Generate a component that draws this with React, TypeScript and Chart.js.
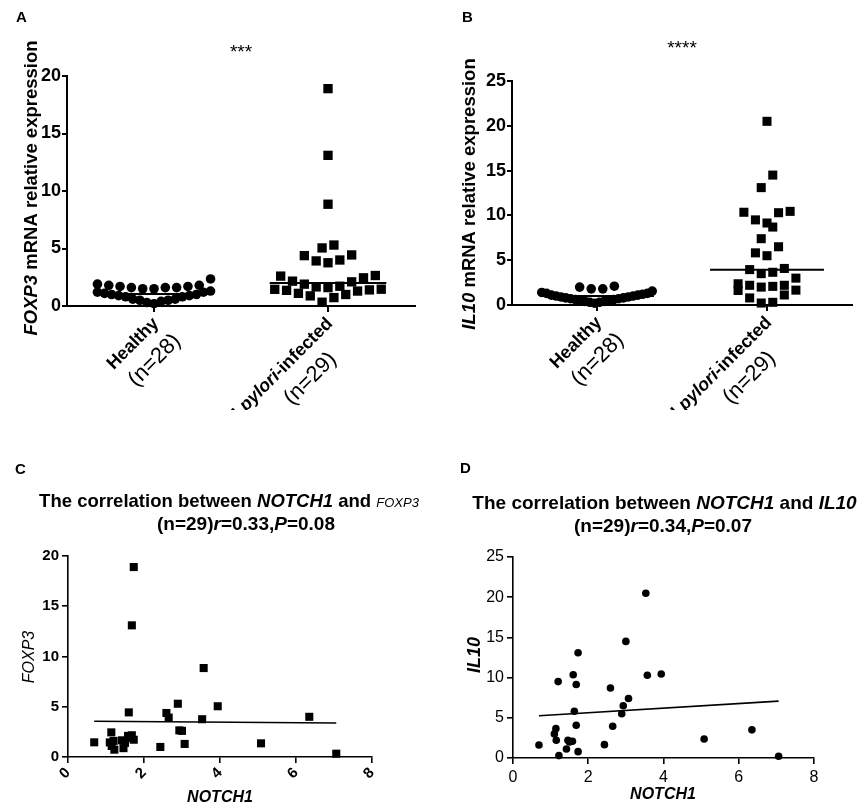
import React, { useEffect, useRef } from "react";
import { Chart, registerables } from "chart.js";

Chart.register(...registerables);

// ---------------- data ----------------
const groupNames = ["Healthy", "H.pylori-infected"];
const groupCounts = ["(n=28)", "(n=29)"];
const significance = ["***", "****"];

// Healthy controls (n=28)
const foxp3Healthy = [1.9, 1.8, 1.7, 1.6, 1.5, 1.5, 1.6, 1.6, 1.7, 1.8, 2.35, 1.3, 1.2, 1.0, 0.9, 0.8, 0.6, 0.5, 0.4, 0.2, 0.3, 0.5, 0.6, 0.8, 0.9, 1.0, 1.1, 1.2];
const il10Healthy = [2.1, 1.8, 1.8, 2.0, 1.55, 1.4, 1.3, 1.3, 1.2, 1.1, 1.1, 1.0, 1.0, 0.9, 0.9, 0.8, 0.8, 0.7, 0.7, 0.6, 0.6, 0.5, 0.5, 0.4, 0.4, 0.3, 0.3, 0.2];

// H. pylori-infected patients (n=29), one entry per patient
const notch1 = [1.73, 1.68, 3.57, 2.89, 3.94, 1.6, 2.59, 2.65, 3.53, 6.35, 1.14, 2.93, 3.0, 3.07, 0.69, 1.1, 1.2, 1.22, 1.42, 1.46, 1.58, 1.68, 1.73, 2.43, 5.08, 7.06, 1.15, 1.5, 1.63];
const foxp3 = [18.9, 13.1, 8.85, 5.3, 5.05, 4.44, 4.38, 3.92, 3.76, 4.0, 2.45, 2.65, 2.6, 1.3, 1.46, 1.45, 1.6, 0.73, 1.66, 0.88, 2.1, 2.16, 1.72, 1.0, 1.36, 0.33, 1.1, 1.4, 1.9];
const il10 = [13.1, 9.15, 10.3, 5.5, 10.45, 10.35, 8.7, 3.95, 20.5, 3.5, 3.65, 6.5, 14.5, 7.4, 1.62, 3.0, 9.5, 0.3, 1.12, 2.2, 2.08, 4.08, 0.79, 1.66, 2.37, 0.22, 2.2, 2.0, 5.82];

// group medians [healthy, infected]
const foxp3Medians = [1.05, 2.0];
const il10Medians = [1.0, 3.93];

// fitted line values at min / max NOTCH1
const foxp3Fit = [3.55, 3.38];
const il10Fit = [5.25, 7.07];

const corrStats = [
  { n: "29", r: "0.33", p: "0.08" },
  { n: "29", r: "0.34", p: "0.07" },
];

const foxp3Ticks = [0, 5, 10, 15, 20];
const il10Ticks = [0, 5, 10, 15, 20, 25];
const notch1Ticks = [0, 2, 4, 6, 8];

// ---------------- helpers ----------------
const FONT = '"Liberation Sans", Arial, Helvetica, sans-serif';
type Run = { t: string; s: number; b?: boolean; i?: boolean };

function runFont(r: Run) {
  return `${r.i ? "italic " : ""}${r.b ? "bold " : ""}${r.s}px ${FONT}`;
}

function drawRuns(
  ctx: CanvasRenderingContext2D,
  runs: Run[],
  x: number,
  y: number,
  align: "left" | "center" | "right" = "left",
  rot = 0,
  baseline: CanvasTextBaseline = "middle"
) {
  ctx.save();
  ctx.translate(x, y);
  if (rot) ctx.rotate(rot);
  ctx.textBaseline = baseline;
  ctx.textAlign = "left";
  ctx.fillStyle = "#000";
  const widths = runs.map((r) => {
    ctx.font = runFont(r);
    return ctx.measureText(r.t).width;
  });
  const total = widths.reduce((a, b) => a + b, 0);
  let cx = align === "center" ? -total / 2 : align === "right" ? -total : 0;
  runs.forEach((r, k) => {
    ctx.font = runFont(r);
    ctx.fillText(r.t, cx, 0);
    cx += widths[k];
  });
  ctx.restore();
}

// column scatter layout: values grouped in rows, lowest in the middle
function swarm(values: number[], center: number, rowSpan: number, maxStep = 0.068, maxWidth = 0.65) {
  const sorted = values.slice().sort((a, b) => a - b);
  const rows: number[][] = [];
  let cur: number[] = [];
  let start = 0;
  for (const v of sorted) {
    if (cur.length && v - start > rowSpan + 1e-9) {
      rows.push(cur);
      cur = [];
    }
    if (!cur.length) start = v;
    cur.push(v);
  }
  if (cur.length) rows.push(cur);
  const out: { x: number; y: number }[] = [];
  for (const row of rows) {
    const n = row.length;
    const step = n > 1 ? Math.min(maxStep, maxWidth / (n - 1)) : 0;
    const slots = Array.from({ length: n }, (_, j) => j - (n - 1) / 2);
    slots.sort((a, b) => Math.abs(a) - Math.abs(b) || a - b);
    row.forEach((v, k) => out.push({ x: center + slots[k] * step, y: v }));
  }
  return out;
}

function pts(data: { x: number; y: number }[], style: string, r: number) {
  return {
    data,
    pointStyle: style,
    pointRadius: r,
    pointBackgroundColor: "#000",
    pointBorderWidth: 0,
    borderWidth: 0,
    showLine: false,
    clip: false,
  };
}

function seg(x0: number, x1: number, y0: number, y1: number, w: number) {
  return {
    data: [
      { x: x0, y: y0 },
      { x: x1, y: y1 },
    ],
    showLine: true,
    pointRadius: 0,
    borderColor: "#000",
    borderWidth: w,
    clip: false,
  };
}

function yAxis(ticks: number[], font: any, w: number, boxWidth: number, tickLen: number, pad: number) {
  return {
    type: "linear",
    position: "left",
    min: ticks[0],
    max: ticks[ticks.length - 1],
    afterBuildTicks: (s: any) => {
      s.ticks = ticks.map((v) => ({ value: v }));
    },
    afterFit: (s: any) => {
      s.width = boxWidth;
    },
    border: { display: true, color: "#000", width: w },
    grid: { drawOnChartArea: false, drawTicks: true, tickLength: tickLen, color: "#000", lineWidth: w },
    ticks: { color: "#000", font, padding: pad, autoSkip: false },
  };
}

function groupXAxis(boxHeight: number) {
  return {
    type: "linear",
    position: "bottom",
    min: -0.5,
    max: 1.5,
    afterBuildTicks: (s: any) => {
      s.ticks = groupNames.map((_, i) => ({ value: i }));
    },
    afterFit: (s: any) => {
      s.height = boxHeight;
    },
    border: { display: true, color: "#000", width: 2 },
    grid: { drawOnChartArea: false, drawTicks: true, tickLength: 6, color: "#000", lineWidth: 2 },
    ticks: { display: true, callback: () => "" },
  };
}

function numXAxis(ticks: number[], font: any, rotation: number, boxHeight: number) {
  return {
    type: "linear",
    position: "bottom",
    min: ticks[0],
    max: ticks[ticks.length - 1],
    afterBuildTicks: (s: any) => {
      s.ticks = ticks.map((v) => ({ value: v }));
    },
    afterFit: (s: any) => {
      s.height = boxHeight;
    },
    border: { display: true, color: "#000", width: 1.6 },
    grid: { drawOnChartArea: false, drawTicks: true, tickLength: 6, color: "#000", lineWidth: 1.6 },
    ticks: { color: "#000", font, padding: rotation ? 1 : 4, autoSkip: false, minRotation: rotation, maxRotation: rotation },
  };
}

const baseOptions = {
  animation: false,
  responsive: false,
  maintainAspectRatio: false,
  devicePixelRatio: 1,
  events: [],
  plugins: { legend: { display: false }, tooltip: { enabled: false } },
};

function groupLabelRuns(i: number): Run[] {
  const name = groupNames[i];
  const m = name.match(/^(H\.)(pylori)(.*)$/);
  if (m) {
    return [
      { t: m[1], s: 18, b: true },
      { t: m[2], s: 18, b: true, i: true },
      { t: m[3], s: 18, b: true },
    ];
  }
  return [{ t: name, s: 18, b: true }];
}

const lineTwoShift = [-38, -64];

function drawGroupLabels(chart: any) {
  const ctx = chart.ctx as CanvasRenderingContext2D;
  const xs = chart.scales.x;
  const bottom = chart.chartArea.bottom;
  groupNames.forEach((_, i) => {
    const tx = xs.getPixelForValue(i);
    ctx.save();
    ctx.translate(tx, bottom);
    ctx.rotate(-Math.PI / 4);
    drawRuns(ctx, groupLabelRuns(i), -9, 12, "right");
    drawRuns(ctx, [{ t: groupCounts[i], s: 22 }], lineTwoShift[i], 39, "center");
    ctx.restore();
  });
}

function textPlugin(id: string, ox: number, oy: number, withGroups: boolean, draw: (ctx: CanvasRenderingContext2D, chart: any) => void) {
  return {
    id,
    afterDraw(chart: any) {
      const ctx = chart.ctx as CanvasRenderingContext2D;
      ctx.save();
      if (withGroups) drawGroupLabels(chart);
      ctx.translate(-ox, -oy);
      draw(ctx, chart);
      ctx.restore();
    },
  };
}

// ---------------- panel configs ----------------
function buildGroupPanel(
  id: string,
  letter: string,
  ox: number,
  healthy: number[],
  infected: number[],
  medians: number[],
  ticks: number[],
  rowSpan: number,
  gene: string,
  star: string,
  box: { left: number; top: number; right: number; bottom: number },
  letterX: number,
  titleX: number,
  titleY: number,
  starBase: number,
  squareR: number
) {
  return {
    type: "scatter",
    data: {
      datasets: [
        pts(swarm(healthy, 0, rowSpan), "circle", 4.8),
        pts(swarm(infected, 1, rowSpan), "rect", squareR),
        seg(-0.335, 0.335, medians[0], medians[0], 2),
        seg(0.665, 1.335, medians[1], medians[1], 2),
      ],
    },
    options: {
      ...baseOptions,
      layout: { padding: { left: 0, top: box.top, right: box.right, bottom: 0 } },
      scales: {
        x: groupXAxis(box.bottom),
        y: yAxis(ticks, { family: FONT, size: 18, weight: "bold" }, 2, box.left, 5, 1),
      },
    },
    plugins: [
      textPlugin(id, ox, 0, true, (ctx, chart) => {
        drawRuns(ctx, [{ t: letter, s: 15, b: true }], letterX, 18, "left");
        const xs = chart.scales.x;
        const mid = (xs.getPixelForValue(0) + xs.getPixelForValue(1)) / 2 + ox;
        drawRuns(ctx, [{ t: star, s: 19 }], mid, starBase, "center", 0, "alphabetic");
        drawRuns(
          ctx,
          [
            { t: gene, s: 18.5, b: true, i: true },
            { t: " mRNA relative expression", s: 18.5, b: true },
          ],
          titleX,
          titleY,
          "center",
          -Math.PI / 2
        );
      }),
    ],
  };
}

function buildCorrPanel(
  id: string,
  letter: string,
  ox: number,
  oy: number,
  yValues: number[],
  fit: number[],
  ticks: number[],
  stats: { n: string; r: string; p: string },
  box: { left: number; top: number; right: number; bottom: number },
  pointStyle: string,
  pointR: number,
  tickFont: any,
  xRot: number,
  titleSize: number,
  geneTitleRuns: Run[],
  geneAxisRun: Run,
  pos: any
) {
  const xMin = Math.min(...notch1);
  const xMax = Math.max(...notch1);
  return {
    type: "scatter",
    data: {
      datasets: [
        pts(notch1.map((x, i) => ({ x, y: yValues[i] })), pointStyle, pointR),
        seg(xMin, xMax, fit[0], fit[1], 1.6),
      ],
    },
    options: {
      ...baseOptions,
      layout: { padding: { left: 0, top: box.top, right: box.right, bottom: 0 } },
      scales: {
        x: numXAxis(notch1Ticks, tickFont, xRot, box.bottom),
        y: yAxis(ticks, tickFont, 1.6, box.left, 6, 3),
      },
    },
    plugins: [
      textPlugin(id, ox, oy, false, (ctx) => {
        drawRuns(ctx, [{ t: letter, s: 15, b: true }], pos.letterX, pos.letterY, "left");
        drawRuns(
          ctx,
          [
            { t: "The correlation between ", s: titleSize, b: true },
            { t: "NOTCH1", s: titleSize, b: true, i: true },
            { t: " and ", s: titleSize, b: true },
            ...geneTitleRuns,
          ],
          pos.t1x,
          pos.t1y,
          "center",
          0,
          "alphabetic"
        );
        drawRuns(
          ctx,
          [
            { t: `(n=${stats.n})`, s: 19, b: true },
            { t: "r", s: 19, b: true, i: true },
            { t: `=${stats.r},`, s: 19, b: true },
            { t: "P", s: 19, b: true, i: true },
            { t: `=${stats.p}`, s: 19, b: true },
          ],
          pos.t2x,
          pos.t2y,
          "center",
          0,
          "alphabetic"
        );
        drawRuns(ctx, [geneAxisRun], pos.yTitleX, pos.yTitleY, "center", -Math.PI / 2);
        drawRuns(ctx, [{ t: "NOTCH1", s: 16, b: true, i: true }], pos.xTitleX, pos.xTitleY, "center");
      }),
    ],
  };
}

const panels = [
  {
    left: 0,
    top: 0,
    width: 432,
    height: 410,
    build: () =>
      buildGroupPanel("textA", "A", 0, foxp3Healthy, foxp3, foxp3Medians, foxp3Ticks, 1.15, "FOXP3", significance[0],
        { left: 67, top: 76, right: 17, bottom: 104 }, 16, 32, 188, 58, 6.6),
  },
  {
    left: 432,
    top: 0,
    width: 432,
    height: 410,
    build: () =>
      buildGroupPanel("textB", "B", 432, il10Healthy, il10, il10Medians, il10Ticks, 1.45, "IL10", significance[1],
        { left: 80, top: 81, right: 12, bottom: 105 }, 462, 470, 194, 54, 6.4),
  },
  {
    left: 0,
    top: 410,
    width: 432,
    height: 397,
    build: () =>
      buildCorrPanel("textC", "C", 0, 410, foxp3, foxp3Fit, foxp3Ticks, corrStats[0],
        { left: 68, top: 146, right: 60, bottom: 50 }, "rect", 5.7,
        { family: FONT, size: 15, weight: "bold" }, 45, 18.5,
        [{ t: "FOXP3", s: 13, i: true }],
        { t: "FOXP3", s: 16, i: true },
        { letterX: 15, letterY: 470, t1x: 229, t1y: 507, t2x: 246, t2y: 530, yTitleX: 30, yTitleY: 657, xTitleX: 220, xTitleY: 798 }),
  },
  {
    left: 432,
    top: 410,
    width: 432,
    height: 397,
    build: () =>
      buildCorrPanel("textD", "D", 432, 410, il10, il10Fit, il10Ticks, corrStats[1],
        { left: 81, top: 147, right: 50, bottom: 49 }, "circle", 3.8,
        { family: FONT, size: 16, weight: "normal" }, 0, 19,
        [{ t: "IL10", s: 19, b: true, i: true }],
        { t: "IL10", s: 18, b: true, i: true },
        { letterX: 460, letterY: 469, t1x: 664.5, t1y: 509, t2x: 663, t2y: 532, yTitleX: 475, yTitleY: 655, xTitleX: 663, xTitleY: 795 }),
  },
];

function ChartCanvas({ left, top, width, height, build }: any) {
  const ref = useRef<HTMLCanvasElement>(null);
  useEffect(() => {
    const chart = new Chart(ref.current as HTMLCanvasElement, build() as any);
    return () => chart.destroy();
  }, []);
  return (
    <canvas
      ref={ref}
      width={width}
      height={height}
      style={{ position: "absolute", left, top, width, height, display: "block" }}
    />
  );
}

export default function App() {
  return (
    <div style={{ position: "absolute", left: 0, top: 0, width: 864, height: 807, background: "#fff" }}>
      {panels.map((p, i) => (
        <ChartCanvas key={i} {...p} />
      ))}
    </div>
  );
}
